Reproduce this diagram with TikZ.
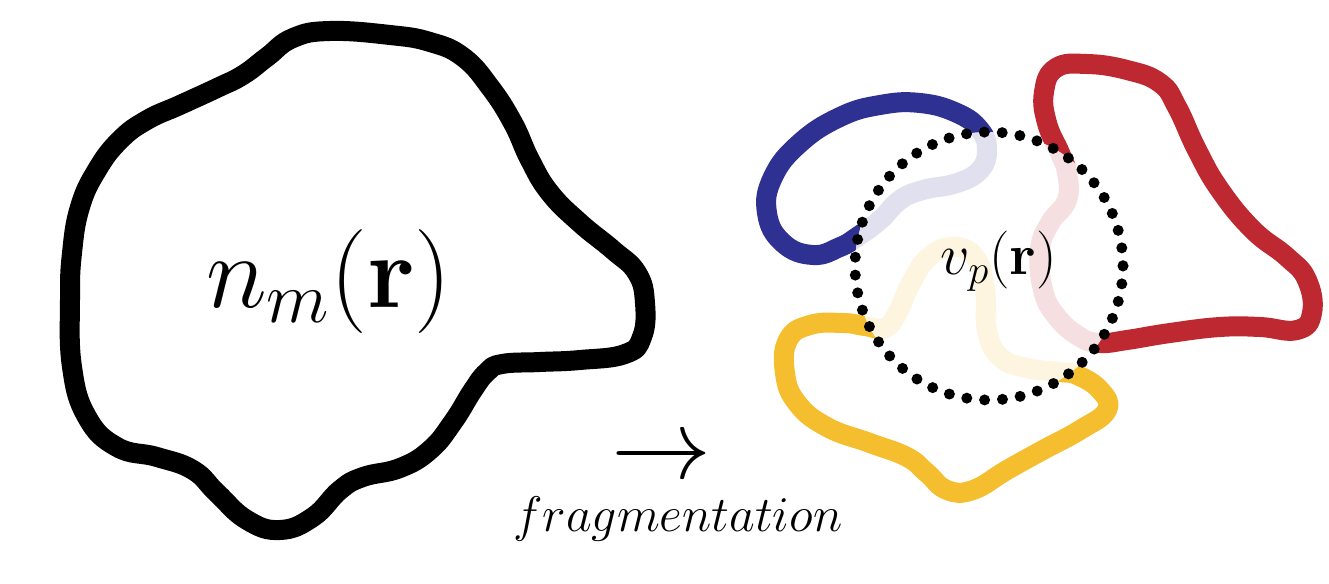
\documentclass[tikz,border=0pt]{standalone}
\usepackage{fix-cm}
\usepackage{amsmath}
\definecolor{cblue}{RGB}{46,49,146}
\definecolor{cred}{RGB}{190,40,48}
\definecolor{cyellow}{RGB}{244,190,46}
\def\blackshape{plot[smooth cycle, tension=0.75] coordinates {(70,300) (72,253) (80,207) (97,170) (120,140) (147,120) (180,105) (217,88) (243,75) (267,57) (293,38) (330,31) (390,35) (430,42) (463,57) (490,87) (513,123) (530,160) (550,193) (580,223) (613,250) (637,273) (645,303) (642,337) (625,354) (580,360) (540,362) (502,364) (487,372) (473,390) (453,422) (430,450) (400,468) (363,477) (340,490) (313,517) (280,530) (247,520) (217,493) (193,470) (157,457) (117,447) (87,417) (72,367)}}
\def\blueshape{plot[smooth cycle, tension=0.75] coordinates {(980,130) (957,113) (920,103) (880,105) (840,117) (800,143) (773,177) (767,213) (783,243) (813,255) (840,247) (857,237) (880,220) (900,200) (923,190) (957,183) (980,170) (987,150)}}
\def\redshape{plot[smooth cycle, tension=0.75] coordinates {(1047,123) (1044,92) (1056,68) (1087,64) (1127,70) (1160,83) (1177,107) (1197,150) (1220,190) (1253,230) (1287,257) (1307,280) (1312,313) (1297,330) (1260,327) (1220,327) (1170,333) (1127,340) (1100,343) (1080,337) (1057,317) (1043,290) (1040,250) (1050,223) (1067,200) (1067,173) (1060,153)}}
\def\yellowshape{plot[smooth cycle, tension=0.75] coordinates {(843,323) (810,325) (788,340) (785,373) (797,403) (827,427) (870,443) (907,457) (927,473) (947,490) (973,490) (1007,470) (1043,450) (1080,430) (1107,410) (1100,390) (1077,375) (1060,372) (1027,368) (1000,357) (987,330) (985,290) (975,257) (952,247) (928,258) (910,285) (898,312) (885,328) (865,326)}}
\begin{document}
\begin{tikzpicture}[x=0.5pt,y=-0.5pt,
  blob/.style={line width=10pt, line join=round},
  dotring/.style={line width=5.5pt, line cap=round, dash pattern=on 0pt off 8.955pt},
  bigmath/.style={font=\fontsize{52}{62}\selectfont, inner sep=0pt},
  midmath/.style={font=\fontsize{29}{35}\selectfont, inner sep=0pt},
  arrmath/.style={font=\fontsize{50}{60}\selectfont, inner sep=0pt},
  labmath/.style={font=\fontsize{25}{30}\selectfont, inner sep=0pt}]
\useasboundingbox (0,0) rectangle (1329,584);
% left blob
\draw[blob,black] \blackshape;
\node[bigmath] (nm) at (329,281) {$n_m(\mathbf{r})$};
% fragments
\draw[blob,cblue] \blueshape;
\draw[blob,cred] \redshape;
\draw[blob,cyellow] \yellowshape;
\coordinate (c) at (989,266);
\fill[white] (c) circle[radius=134];
\begin{scope}
  \clip (c) circle[radius=134];
  \draw[blob,cblue!15] \blueshape;
  \draw[blob,cred!15] \redshape;
  \draw[blob,cyellow!15] \yellowshape;
\end{scope}
\draw[dotring] (c) circle[radius=134];
\node[midmath] (vp) at (999,261) {$v_p(\mathbf{r})$};
% arrow and label
\node[arrmath, anchor=base] (arr) at (661,478) {$\rightarrow$};
\node[labmath, anchor=base] (frag) at (678,531) {$fragmentation$};
\end{tikzpicture}
\end{document}
